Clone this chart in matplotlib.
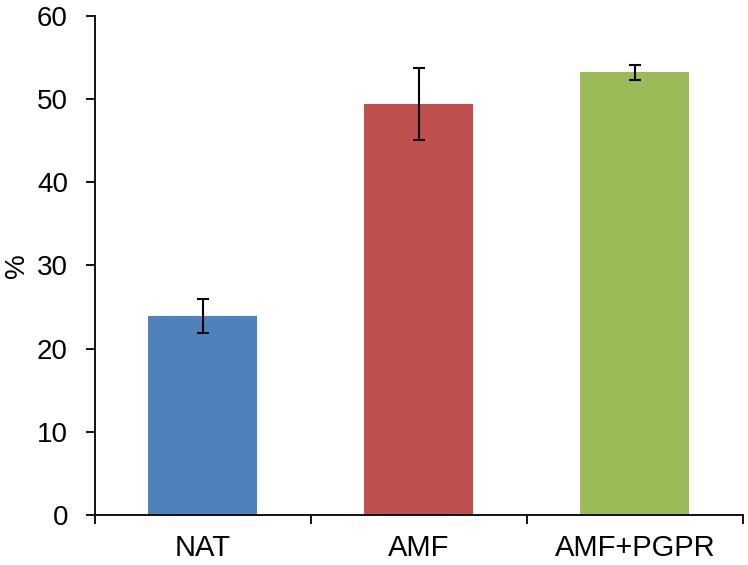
import matplotlib
matplotlib.use('Agg')
import matplotlib.pyplot as plt

plt.rcParams['font.family'] = ['Liberation Sans', 'DejaVu Sans']

categories = ['NAT', 'AMF', 'AMF+PGPR']
values = [23.9, 49.4, 53.2]
errors = [2.05, 4.3, 0.9]
colors = ['#4F81BD', '#C0504D', '#9BBB59']

fig = plt.figure(figsize=(7.48, 5.65), dpi=100)
ax = fig.add_axes([0.127, 0.0885, 0.866, 0.8835])

x = list(range(len(categories)))
ax.bar(x, values, width=0.505, color=colors, zorder=2)
ax.errorbar(x, values, yerr=errors, fmt='none', ecolor='black',
            elinewidth=1.5, capsize=4.3, capthick=1.5, zorder=3)

ax.set_xlim(-0.5, 2.5)
ax.set_ylim(0, 60)
ax.set_yticks(range(0, 61, 10))
ax.set_xticks([-0.5, 0.5, 1.5, 2.5])
ax.set_xticklabels([])
ax.set_xticks(x, minor=True)
ax.set_xticklabels(categories, minor=True)
ax.tick_params(axis='x', which='minor', length=0, pad=14, labelsize=21)
ax.tick_params(axis='x', which='major', length=6.5, width=1.3, direction='out')
ax.tick_params(axis='y', length=6.5, width=1.3, direction='out', labelsize=20, pad=13)
ax.set_ylabel('%', fontsize=20)
ax.yaxis.set_label_coords(-0.101, 0.5)

ax.spines['top'].set_visible(False)
ax.spines['right'].set_visible(False)
ax.spines['left'].set_linewidth(1.3)
ax.spines['bottom'].set_linewidth(1.3)

fig.savefig('out.png', dpi=100)
